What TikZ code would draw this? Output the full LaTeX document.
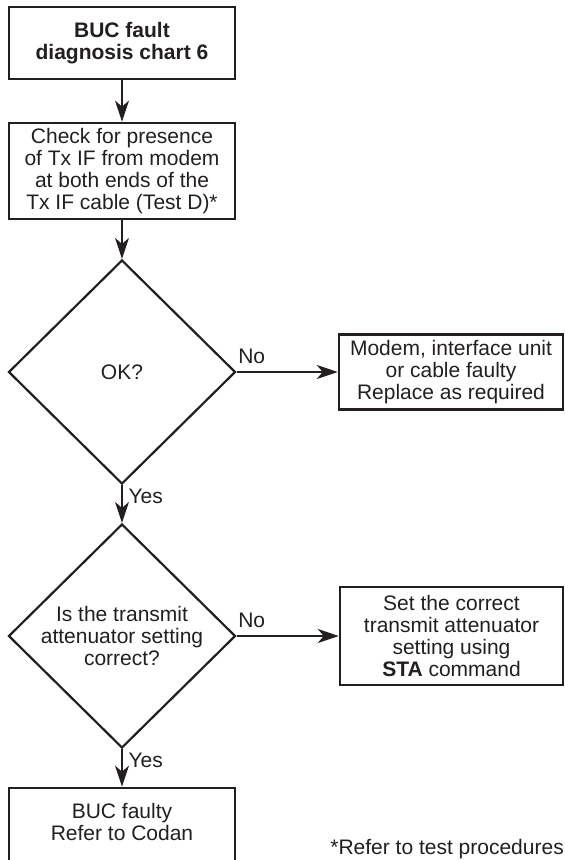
\documentclass[tikz,border=0pt]{standalone}
\usepackage{fontspec}
\setmainfont{Liberation Sans}
\usetikzlibrary{shapes.geometric,arrows.meta,positioning}
\definecolor{ink}{HTML}{231F20}

\begin{document}
\begin{tikzpicture}[x=1pt,y=-1pt,>={Stealth[length=21pt,width=14pt,inset=6pt]},
        every node/.style={font=\fontsize{21}{22}\selectfont,text=ink},
        box/.style={draw=ink,line width=2.8pt,rectangle,align=center,inner sep=0pt,minimum width=226pt},
        decision/.style={draw=ink,line width=2.2pt,diamond,align=center,inner sep=0pt,minimum width=227pt,minimum height=224pt},
        flow/.style={draw=ink,line width=1.3pt,->},
        ans/.style={inner sep=0pt}]
        \useasboundingbox (0,0) rectangle (565,860);
        \clip (0,0) rectangle (565,860);

        % Main column
        \node[box,minimum height=72pt,font=\fontsize{21}{22}\selectfont\bfseries] (chart) at (122,43) {BUC fault\\diagnosis chart 6};
        \node[box,minimum height=96pt] (check) at (122,171) {Check for presence\\of Tx IF from modem\\at both ends of the\\Tx IF cable (Test D)*};
        \node[decision] (ok) at (122,372) {OK?};
        \node[decision] (attn) at (122,636) {Is the transmit\\attenuator setting\\correct?};
        \node[box,minimum height=76pt,text depth=9pt] (codan) at (122,826) {BUC faulty\\Refer to Codan};

        % Side boxes
        \node[box,line width=2.5pt,minimum width=224pt,minimum height=75pt] (modem) at (451,372) {Modem, interface unit\\or cable faulty\\Replace as required};
        \node[box,line width=2.5pt,minimum width=223pt,minimum height=98pt] (sta) at (451.5,636) {Set the correct\\transmit attenuator\\setting using\\\textbf{STA} command};

        % Flow
        \draw[flow] (chart) -- (check);
        \draw[flow] (check) -- (ok);
        \draw[flow] (ok) -- node[pos=0,ans,above right=7.5pt and 1pt] {No} (modem);
        \draw[flow] (ok) -- node[pos=0,ans,below right=3.5pt and 6pt] {Yes} (attn);
        \draw[flow] (attn) -- node[pos=0,ans,above right=7.5pt and 1pt] {No} (sta);
        \draw[flow] (attn) -- node[pos=0,ans,below right=3.5pt and 6pt] {Yes} (codan);

        % Footnote
        \node[anchor=base east,inner sep=0pt] (note) at (564,854.5) {*Refer to test procedures};
    \end{tikzpicture}
\end{document}
